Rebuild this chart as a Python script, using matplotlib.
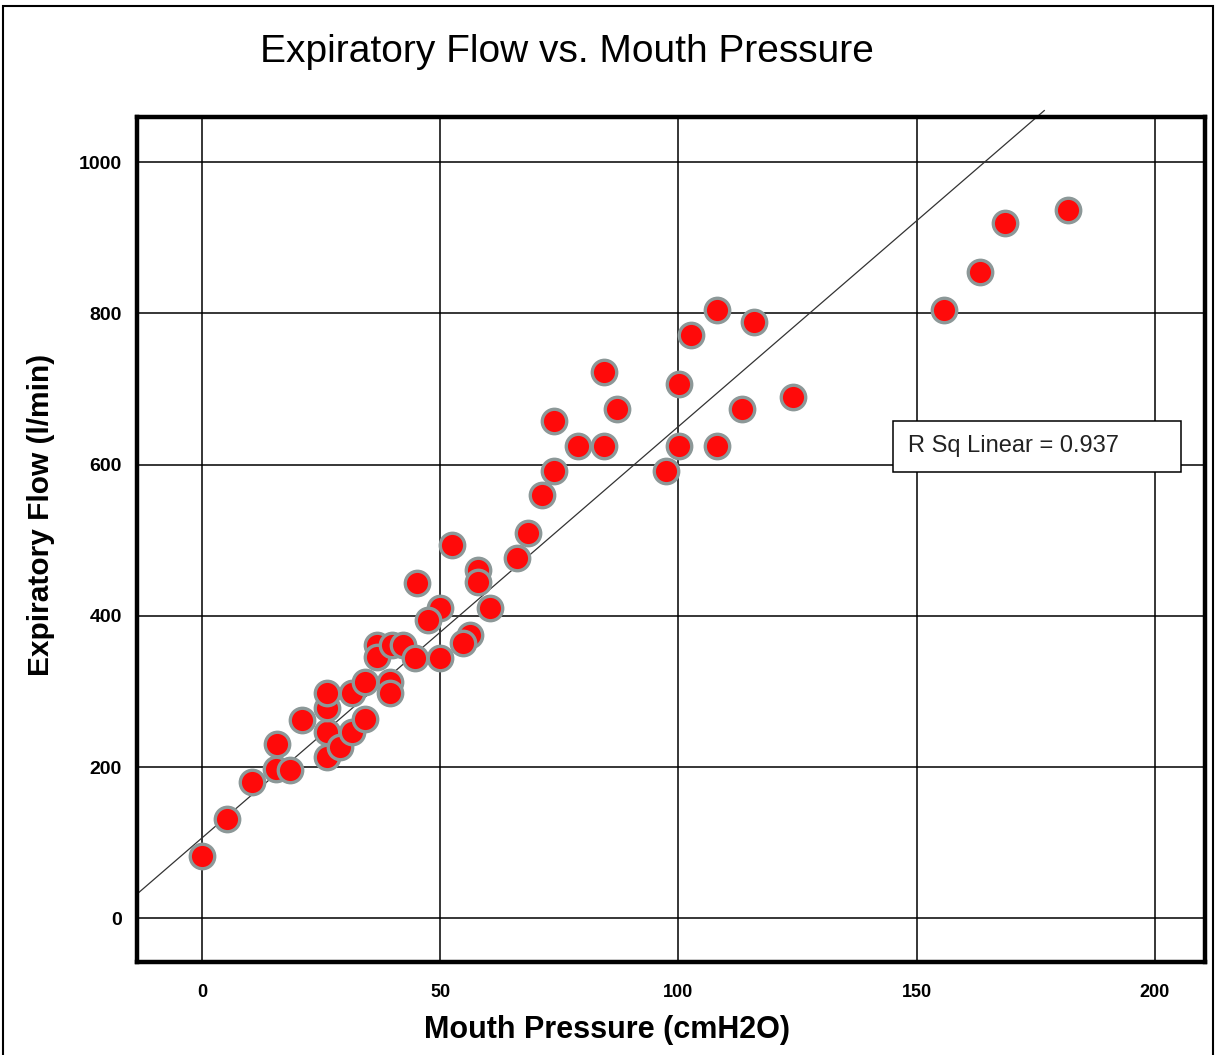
import matplotlib
matplotlib.use("Agg")
import matplotlib.pyplot as plt
from matplotlib.patches import Rectangle

plt.rcParams['font.family'] = ['Liberation Sans', 'DejaVu Sans']

# Mouth pressure (cmH2O) and expiratory flow (l/min)
pressure = [0, 5.2, 10.6, 15.5, 18.4, 15.7, 21.0, 26.2, 26.2, 26.2, 26.2, 29.0,
            31.5, 31.5, 34.3, 34.3, 36.7, 36.7, 39.9, 42.3, 44.8, 39.5, 39.5,
            45.1, 50.0, 50.0, 47.5, 52.5, 58.0, 58.0, 60.5, 56.3, 54.9, 66.1,
            68.5, 71.3, 73.8, 73.8, 79.0, 84.3, 84.3, 87.1, 97.4, 100.2, 100.2,
            102.6, 108.1, 115.9, 108.1, 113.4, 124.0, 155.7, 163.3, 168.5, 181.8]
flow = [82, 131, 181, 197, 196, 231, 263, 214, 246, 278, 298, 227,
        246, 298, 264, 313, 362, 346, 362, 362, 344, 313, 298,
        443, 344, 410, 395, 494, 461, 445, 411, 375, 364, 476,
        509, 560, 592, 657, 624, 624, 722, 674, 592, 624, 707,
        771, 804, 788, 624, 674, 689, 804, 854, 919, 936]

# fit line as shown on the chart
slope = 5.44
intercept = 106.3
r_sq = 0.937

x_ticks = [0, 50, 100, 150, 200]
y_ticks = [0, 200, 400, 600, 800, 1000]

fig = plt.figure(figsize=(12.17, 10.55), dpi=100)
ax = fig.add_axes([0.1126, 0.0882, 0.8775, 0.8009])

xmin, xmax = -13.6, 210.5
ymin, ymax = -57.5, 1059.5
ax.set_xlim(xmin, xmax)
ax.set_ylim(ymin, ymax)

ax.set_xticks(x_ticks)
ax.set_yticks(y_ticks)
ax.grid(True, color='black', linewidth=1.1, zorder=0)
ax.set_axisbelow(True)
ax.tick_params(axis='y', length=0, labelsize=14, pad=11)
ax.tick_params(axis='x', length=0, labelsize=13, pad=16)
for lab in ax.get_xticklabels() + ax.get_yticklabels():
    lab.set_fontweight('bold')

for sp in ax.spines.values():
    sp.set_linewidth(3.2)
    sp.set_color('black')

# regression line, runs a bit past the top border like in the original
x_end = (1068 - intercept) / slope
ax.plot([xmin, x_end], [intercept + slope * xmin, intercept + slope * x_end],
        color='#333333', linewidth=0.9, zorder=2, clip_on=False)

ax.scatter(pressure, flow, s=310, c='#ff0a0a', edgecolors='#8c9898',
           linewidths=2.4, zorder=3)

# R squared box
ax.add_patch(Rectangle((0.7076, 0.580), 0.2704, 0.0606, transform=ax.transAxes,
                       facecolor='white', edgecolor='black', linewidth=1.1, zorder=4))
ax.text(0.722, 0.611, 'R Sq Linear = %.3f' % r_sq, transform=ax.transAxes,
        fontsize=17, va='center', ha='left', color='#222222', zorder=5)

ax.set_xlabel('Mouth Pressure (cmH2O)', fontsize=22, fontweight='bold')
ax.xaxis.set_label_coords(0.44, -0.063)
ax.set_ylabel('Expiratory Flow (l/min)', fontsize=21.5, fontweight='bold')
ax.yaxis.set_label_coords(-0.077, 0.529)

fig.text(0.466, 0.951, 'Expiratory Flow vs. Mouth Pressure', fontsize=28,
         ha='center', va='center')

# outer frame round the whole picture
fig.add_artist(Rectangle((3 / 1217, -0.01), 1210 / 1217, 1 - 6 / 1055 + 0.01,
                         transform=fig.transFigure, fill=False,
                         edgecolor='black', linewidth=1.5))

fig.savefig('out.png', dpi=100)
